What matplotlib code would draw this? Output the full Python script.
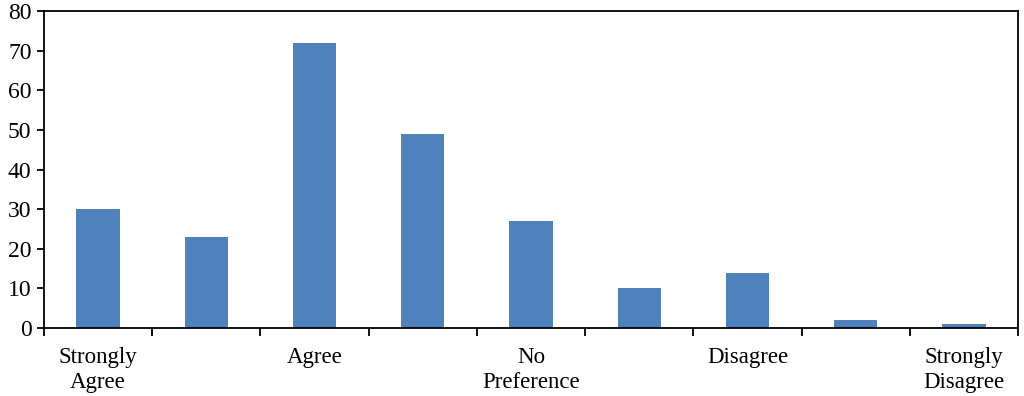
import matplotlib
matplotlib.use("Agg")
import matplotlib.pyplot as plt
import numpy as np

categories = ["Strongly\nAgree", "", "Agree", "", "No\nPreference", "", "Disagree", "", "Strongly\nDisagree"]
values = [30, 23, 72, 49, 27, 10, 14, 2, 1]
yticks = [0, 10, 20, 30, 40, 50, 60, 70, 80]

plt.rcParams['font.family'] = ['Liberation Serif', 'DejaVu Serif']

fig = plt.figure(figsize=(10.24, 3.96), dpi=100)
ax = fig.add_axes([44/1024, 1 - 328/396, (1018-44)/1024, (328-11)/396])

x = np.arange(len(values))
ax.bar(x, values, width=0.4, color="#4F81BD", zorder=2)

ax.set_xlim(-0.5, len(values) - 0.5)
ax.set_ylim(0, 80)
ax.set_yticks(yticks)
ax.set_yticklabels([str(v) for v in yticks], fontsize=17)
ax.tick_params(axis='y', direction='out', length=5, width=1.3, pad=4)

ax.set_xticks(x)
ax.set_xticklabels(categories, fontsize=16.5, linespacing=1.2, va='top')
ax.tick_params(axis='x', which='major', length=0, pad=14)
ax.set_xticks(np.arange(len(values) + 1) - 0.5, minor=True)
ax.tick_params(axis='x', which='minor', direction='out', length=6, width=1.3)

for s in ax.spines.values():
    s.set_linewidth(1.3)
    s.set_color('black')

fig.savefig("out.png", dpi=100)
